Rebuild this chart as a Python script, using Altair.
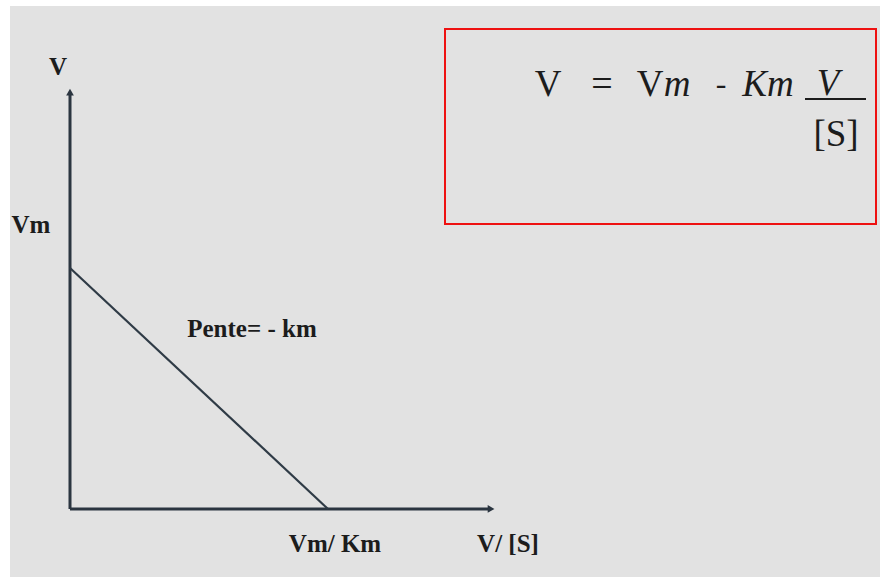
import altair as alt
import pandas as pd

# Eadie-Hofstee plot: V = Vm - Km * V/[S]
VM = 1.0          # y-intercept (Vm)
KM = 1.0          # slope magnitude (Km)
X_AXIS_END = 1.632
Y_AXIS_END = 1.73

line_x = [0.0, VM / KM]
line_y = [VM, 0.0]

axis_x = [0.0, 0.0]
axis_y = [0.0, 0.0]
axis_x2 = [0.0, X_AXIS_END]
axis_y2 = [Y_AXIS_END, 0.0]

X_DOMAIN = [-0.2713, 3.1395]
Y_DOMAIN = [-0.2822, 2.1120]

xs = alt.Scale(domain=X_DOMAIN, nice=False, zero=False)
ys = alt.Scale(domain=Y_DOMAIN, nice=False, zero=False)

INK = "#1c1c1c"
AXIS_INK = "#2b3540"
FONT = "Liberation Serif"

one = pd.DataFrame({"k": [0]})

panel = alt.Chart(one).mark_rect(color="#e2e2e2").encode(
    x=alt.value(10), x2=alt.value(880), y=alt.value(6), y2=alt.value(577)
)

axes = alt.Chart(pd.DataFrame({"x": axis_x, "y": axis_y, "x2": axis_x2, "y2": axis_y2})).mark_rule(
    color=AXIS_INK, strokeWidth=3
).encode(
    x=alt.X("x:Q", scale=xs, axis=None),
    y=alt.Y("y:Q", scale=ys, axis=None),
    x2="x2:Q",
    y2="y2:Q",
)

arrow_up = alt.Chart(pd.DataFrame({"x": [0.0], "y": [Y_AXIS_END]})).mark_point(
    shape="triangle-up", filled=True, size=60, color=AXIS_INK, opacity=1
).encode(x=alt.X("x:Q", scale=xs, axis=None), y=alt.Y("y:Q", scale=ys, axis=None))

arrow_right = alt.Chart(pd.DataFrame({"x": [X_AXIS_END], "y": [0.0]})).mark_point(
    shape="triangle-right", filled=True, size=60, color=AXIS_INK, opacity=1
).encode(x=alt.X("x:Q", scale=xs, axis=None), y=alt.Y("y:Q", scale=ys, axis=None))

fit = alt.Chart(pd.DataFrame({"x": line_x, "y": line_y})).mark_line(
    color="#2f3b46", strokeWidth=2.2
).encode(x=alt.X("x:Q", scale=xs, axis=None), y=alt.Y("y:Q", scale=ys, axis=None))


def label(text, x, y, size=25, weight="bold", style="normal", align="center", font=FONT):
    return alt.Chart(one).mark_text(
        text=text, font=font, fontSize=size, fontWeight=weight, fontStyle=style,
        align=align, baseline="alphabetic", color=INK,
    ).encode(x=alt.value(x), y=alt.value(y))


labels = [
    label("V", 58, 75),
    label("Vm", 31, 233),
    label("Pente= - km", 252, 337),
    label("Vm/ Km", 335, 552),
    label("V/ [S]", 508, 552),
]

# Equation box
box = alt.Chart(one).mark_rect(fill=None, stroke="#ee1111", strokeWidth=2).encode(
    x=alt.value(445), x2=alt.value(876), y=alt.value(29), y2=alt.value(224)
)

EQ = 37
formula = [
    label("V", 548, 96, EQ, "normal"),
    label("=", 602, 96, 38, "normal"),
    label("V", 650, 96, EQ, "normal"),
    label("m", 677, 96, EQ, "normal", "italic"),
    label("-", 721, 94, 32, "normal"),
    label("Km", 768, 96, EQ, "normal", "italic"),
    label("V", 828, 95, EQ, "normal", "italic"),
    label("[S]", 836, 146, EQ, "normal"),
]
frac_bar = alt.Chart(one).mark_rule(color=INK, strokeWidth=1.8).encode(
    x=alt.value(805), x2=alt.value(866), y=alt.value(99)
)

chart = alt.layer(
    panel, box, axes, arrow_up, arrow_right, fit, frac_bar, *labels, *formula
).properties(
    width=880, height=577, padding=0, autosize=alt.AutoSizeParams(type="none"),
    background="white",
).configure_view(stroke=None)

chart.save("out.html", embed_options={"renderer": "svg", "actions": False})
